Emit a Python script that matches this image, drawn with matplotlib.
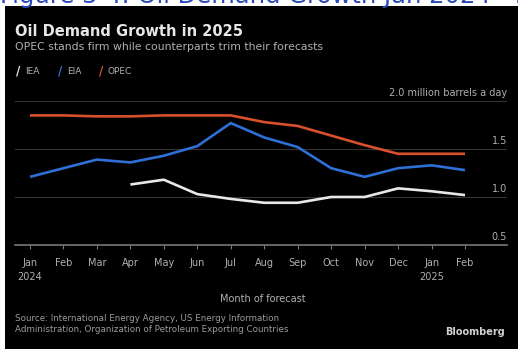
import matplotlib
matplotlib.use("Agg")
from matplotlib import pyplot as plt
from matplotlib.patches import Rectangle
from matplotlib import transforms

months = ["Jan\n2024", "Feb", "Mar", "Apr", "May", "Jun", "Jul", "Aug",
          "Sep", "Oct", "Nov", "Dec", "Jan\n2025", "Feb"]
opec = [1.85, 1.85, 1.84, 1.84, 1.85, 1.85, 1.85, 1.78, 1.74, 1.64,
        1.54, 1.45, 1.45, 1.45]
eia = [1.21, 1.30, 1.39, 1.36, 1.43, 1.53, 1.77, 1.62, 1.52, 1.30,
       1.21, 1.30, 1.33, 1.28]
iea_idx = list(range(3, 14))
iea = [1.13, 1.18, 1.03, 0.98, 0.94, 0.94, 1.00, 1.00, 1.09, 1.06, 1.02]
ytick_vals = [0.5, 1.0, 1.5, 2.0]
ytick_labels = ["0.5", "1.0", "1.5", "2.0 million barrels a day"]

W, H = 518, 351
fig = plt.figure(figsize=(W / 100, H / 100), dpi=100, facecolor="white")

# black card behind the chart
fig.patches.append(Rectangle((5 / W, 2 / H), 1 - 5 / W, (H - 8) / H,
                             transform=fig.transFigure, facecolor="black",
                             edgecolor="none", zorder=-5))

# clipped caption above the card
fig.text(0.0, 1 - 3.5 / H, "Figure 3-4: Oil Demand Growth Jan 2024 - Feb 2025",
         color="#2a49b8", fontsize=17.5, va="baseline", ha="left")

grey = "#b0b0b0"
fig.text(15 / W, 1 - 32 / H, "Oil Demand Growth in 2025", color="#e6e6e6",
         fontsize=10.5, fontweight="bold", va="center")
fig.text(15 / W, 1 - 47 / H,
         "OPEC stands firm while counterparts trim their forecasts",
         color=grey, fontsize=7.8, va="center")

# legend
for x0, col, name in [(16, "#e8e8e8", "IEA"), (58, "#2f6fd6", "EIA"),
                      (99, "#d9512c", "OPEC")]:
    fig.text(x0 / W, 1 - 71 / H, "/", color=col, fontsize=8.5,
             fontweight="bold", va="center")
    fig.text((x0 + 9) / W, 1 - 71 / H, name, color=grey, fontsize=6.5,
             va="center")

x_left, x_right = 15, 507
y_top, y_bot = 101, 245
ax = fig.add_axes([x_left / W, 1 - y_bot / H, (x_right - x_left) / W,
                   (y_bot - y_top) / H], zorder=2)
ax.set_facecolor("none")
px = 33.46
ax.set_xlim(-(30 - x_left) / px, 13 + (x_right - 465) / px)
ax.set_ylim(0.5, 2.0)

x = list(range(len(months)))
ax.plot(x, opec, color="#d9512c", lw=1.9, solid_capstyle="butt")
ax.plot(x, eia, color="#2f6fd6", lw=1.9, solid_capstyle="butt")
ax.plot(iea_idx, iea, color="#e8e8e8", lw=1.9, solid_capstyle="butt")

for v in ytick_vals[1:]:
    ax.axhline(v, color="#333333", lw=0.8, zorder=0)

for s in ["top", "left", "right"]:
    ax.spines[s].set_visible(False)
ax.spines["bottom"].set_color("#777777")
ax.spines["bottom"].set_linewidth(1.2)

ax.set_xticks(x)
ax.set_xticklabels(months, color=grey, fontsize=7, linespacing=1.5)
ax.tick_params(axis="x", length=3, color="#777777", pad=6)
for lab in ax.get_xticklabels():
    lab.set_verticalalignment("top")

ax.yaxis.tick_right()
ax.set_yticks(ytick_vals)
ax.set_yticklabels(ytick_labels, color=grey, fontsize=7)
ax.tick_params(axis="y", length=0, pad=0)
shift = transforms.ScaledTranslation(0, 3 / 100, fig.dpi_scale_trans)
for lab in ax.get_yticklabels():
    lab.set_horizontalalignment("right")
    lab.set_verticalalignment("bottom")
    lab.set_transform(lab.get_transform() + shift)

fig.text(263 / W, 1 - 299 / H, "Month of forecast", color=grey,
         fontsize=7, ha="center", va="center")
fig.text(15 / W, 1 - 324 / H,
         "Source: International Energy Agency, US Energy Information\n"
         "Administration, Organization of Petroleum Exporting Countries",
         color="#9a9a9a", fontsize=6.3, va="center", linespacing=1.3)
fig.text(505 / W, 1 - 332 / H, "Bloomberg", color="#d0d0d0", fontsize=7,
         fontweight="bold", ha="right", va="center")

fig.savefig("out.png", dpi=100, facecolor="white")
